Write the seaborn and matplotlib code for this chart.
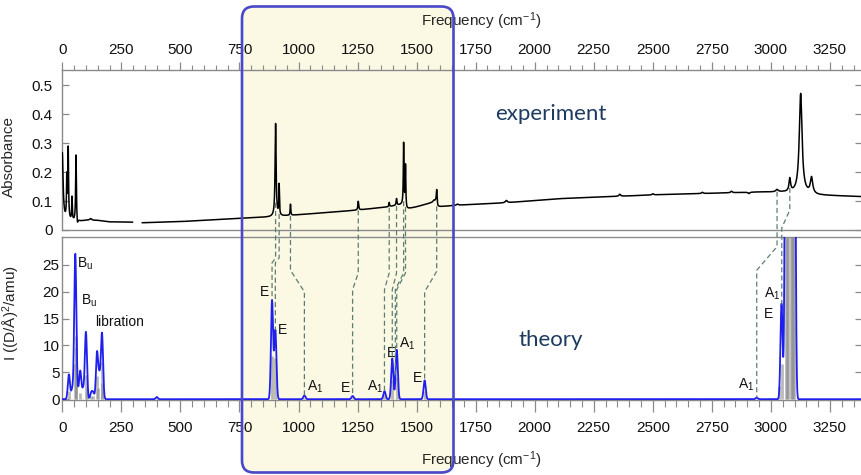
import numpy as np
import pandas as pd
import matplotlib
matplotlib.use("Agg")
import matplotlib.pyplot as plt
import matplotlib.transforms as mtransforms
from matplotlib.patches import FancyBboxPatch
from matplotlib.lines import Line2D
from matplotlib.ticker import MultipleLocator
import seaborn as sns

# ---------------------------------------------------------------- data
# Experimental IR absorbance: smooth baseline knots plus Lorentzian bands
exp_base_freq = [0, 65, 100, 150, 200, 300, 340, 500, 750, 880, 990, 1240, 1370,
                 1440, 1449, 1458, 1500, 1580, 1590, 1680, 1880, 2100, 2530,
                 2950, 3050, 3200, 3390]
exp_base_abs = [0.030, 0.028, 0.033, 0.033, 0.028, 0.027, 0.025, 0.029, 0.040,
                0.045, 0.052, 0.068, 0.079, 0.088, 0.088, 0.072, 0.080, 0.098,
                0.080, 0.086, 0.094, 0.108, 0.122, 0.131, 0.130, 0.120, 0.115]
exp_peak_freq = [0, 19, 25, 41, 58, 64, 120, 903, 918, 966, 1253, 1384, 1415,
                 1445, 1453, 1573, 1585, 1673, 1880, 2360, 2500, 2710, 2833,
                 2907, 3026, 3080, 3126, 3172]
exp_peak_height = [0.235, 0.14, 0.245, 0.08, 0.23, -0.02, 0.006, 0.32, 0.105,
                   0.038, 0.03, 0.014, 0.023, 0.21, 0.14, 0.006, 0.05, 0.004,
                   0.008, 0.007, 0.004, 0.004, 0.005, -0.005, 0.008, 0.045,
                   0.345, 0.055]
exp_peak_hwhm = [4, 1.5, 1.8, 1.5, 1.8, 2, 5, 2.5, 1.5, 1.5, 2, 1.5, 2, 1.5,
                 1.5, 4, 2, 4, 5, 4, 4, 4, 4, 4, 6, 4, 7, 6]
exp_gap = (298, 338)          # no data recorded in this window

# Computed harmonic spectrum: stick intensities and broadened bands
stick_freq = [30, 52, 56, 60, 76, 100, 104, 121, 131, 146, 150, 166, 170, 400,
              888, 901, 1025, 1229, 1364, 1397, 1416, 1534, 2940, 3036, 3045,
              3064, 3068, 3073, 3083, 3088, 3092, 3099]
stick_int = [1.6, 6.5, 11.7, 9.6, 1.2, 4.5, 2.0, 0.6, 0.6, 4.3, 2.0, 7.0, 3.0,
             0.2, 8.0, 7.6, 0.3, 0.3, 0.7, 3.6, 4.2, 1.6, 0.15, 2.5, 6.5, 60,
             40, 60, 80, 50, 70, 60]
band_freq = [28, 42, 55, 66, 76, 88, 100, 123, 131, 147, 157, 168, 400, 888,
             902, 1025, 1229, 1364, 1397, 1416, 1534, 2940, 3045, 3064, 3073,
             3083, 3092, 3099]
band_peak = [4.6, 1.8, 27.0, 1.0, 5.2, 1.8, 12.5, 1.2, 1.1, 8.6, 4.0, 12.2, 0.4,
             18.4, 12.8, 0.7, 0.6, 1.5, 7.6, 9.2, 3.5, 0.3, 17.8, 90, 80, 100,
             85, 90]
band_sigma = 4.5

# Mode symmetry labels in the theory panel
mode_text = ["B$_\\mathrm{u}$", "B$_\\mathrm{u}$", "libration", "E", "E",
             "A$_1$", "E", "A$_1$", "E", "A$_1$", "E", "A$_1$", "A$_1$", "E"]
mode_x = [64, 79, 139, 874, 914, 1037, 1178, 1291, 1373, 1424, 1483, 2860,
          2970, 2970]
mode_y = [25.3, 18.3, 14.3, 20.0, 12.8, 2.3, 2.0, 2.3, 8.6, 10.3, 4.0, 2.6,
          19.7, 15.8]
mode_ha = ["left", "left", "left", "right", "left", "left", "left", "left",
           "left", "left", "left", "left", "left", "left"]

# Assignment links: experimental band -> computed band
link_exp = [903, 918, 966, 1253, 1384, 1415, 1445, 1453, 1585, 3026, 3080]
link_theo = [888, 902, 1025, 1229, 1364, 1397, 1410, 1416, 1534, 2940, 3046]
link_knee_hi = [26.3, 26.3, 24.0, 23.5, 23.5, 23.5, 23.5, 23.5, 23.8, 28.4, 35.2]
link_knee_lo = [25.4, 25.4, 20.0, 20.4, 20.4, 20.4, 20.4, 20.4, 20.0, 24.0, 31.9]

freq_ticks = list(range(0, 3251, 250))
abs_ticks = [0, 0.1, 0.2, 0.3, 0.4, 0.5]
abs_tick_labels = ["0", "0.1", "0.2", "0.3", "0.4", "0.5"]
int_ticks = [0, 5, 10, 15, 20, 25]

# ---------------------------------------------------------------- style
sns.set_style("white")
plt.rcParams["font.family"] = ["Liberation Sans", "DejaVu Sans"]
plt.rcParams["mathtext.fontset"] = "custom"
plt.rcParams["mathtext.rm"] = "Liberation Sans"
plt.rcParams["mathtext.it"] = "Liberation Sans:italic"
plt.rcParams["mathtext.bf"] = "Liberation Sans:bold"

SPINE = "#8a8a8a"
LINK = "#5d7d73"
BLUE = "#2020ee"
NAVY = "#1d3b61"

W, H = 862, 475
fig = plt.figure(figsize=(W / 100, H / 100), dpi=100)
fig.patch.set_facecolor("white")

x0, x1 = 62.3, 861.5
ax_exp = fig.add_axes([x0 / W, (H - 230) / H, (x1 - x0) / W, 160 / H])
ax_th = fig.add_axes([x0 / W, (H - 400) / H, (x1 - x0) / W, 163 / H])
xmax = (x1 - x0) / 0.2362

# ---------------------------------------------------------------- experiment
f = np.arange(0, 3390.01, 0.25)
absorb = np.interp(f, exp_base_freq, exp_base_abs)
for c, h, w in zip(exp_peak_freq, exp_peak_height, exp_peak_hwhm):
    absorb = absorb + h * w ** 2 / ((f - c) ** 2 + w ** 2)
segment = np.where(f <= exp_gap[0], 0, np.where(f >= exp_gap[1], 1, -1))
df_exp = pd.DataFrame({"freq": f, "absorbance": absorb, "segment": segment})
df_exp = df_exp[df_exp["segment"] >= 0]
sns.lineplot(data=df_exp, x="freq", y="absorbance", units="segment",
             estimator=None, sort=False, color="black", lw=1.1, ax=ax_exp,
             zorder=3)

# ---------------------------------------------------------------- theory
ft = np.arange(0, 3390.01, 0.5)
inten = np.zeros_like(ft)
for c, h in zip(band_freq, band_peak):
    inten = inten + h * np.exp(-0.5 * ((ft - c) / band_sigma) ** 2)
ax_th.vlines(stick_freq, 0, stick_int, color="#8c8c8c", alpha=0.6, lw=2.0,
             zorder=2)
df_th = pd.DataFrame({"freq": ft, "intensity": inten})
sns.lineplot(data=df_th, x="freq", y="intensity", estimator=None, sort=False,
             color=BLUE, lw=1.3, ax=ax_th, zorder=3)

for t, x, y, ha in zip(mode_text, mode_x, mode_y, mode_ha):
    ax_th.text(x, y, t, ha=ha, va="center", fontsize=10, color="#111111",
               zorder=4)

# ---------------------------------------------------------------- axes
for ax in (ax_exp, ax_th):
    ax.set_xlim(0, xmax)
    ax.patch.set_visible(False)
    for s in ax.spines.values():
        s.set_color(SPINE)
        s.set_linewidth(1.0)
        s.set_visible(True)
    ax.set_xticks(freq_ticks)
    ax.set_xticklabels([str(v) for v in freq_ticks])
    ax.xaxis.set_minor_locator(MultipleLocator(50))
    ax.tick_params(colors=SPINE, labelcolor="#111111", labelsize=11, width=0.9)
    ax.tick_params(axis="x", which="minor", colors=SPINE, width=0.8)

ax_exp.set_ylim(0, 0.552)
ax_exp.set_yticks(abs_ticks)
ax_exp.set_yticklabels(abs_tick_labels)
ax_exp.xaxis.tick_top()
ax_exp.tick_params(axis="x", which="major", direction="out", length=5.8,
                   pad=3.2, top=True, bottom=False)
ax_exp.tick_params(axis="x", which="minor", direction="out", length=3.5,
                   top=True, bottom=False)
ax_exp.tick_params(axis="y", which="major", direction="in", length=5, pad=7,
                   left=True, right=True)
ax_exp.set_xlabel("Frequency (cm$^{-1}$)", fontsize=11)
ax_exp.xaxis.set_label_position("top")
ax_exp.xaxis.set_label_coords(0.524, 1.272)
ax_exp.set_ylabel("Absorbance", fontsize=11)
ax_exp.yaxis.set_label_coords(-0.058, 0.46)

ax_th.set_ylim(-0.15, 30.2)
ax_th.set_yticks(int_ticks)
ax_th.set_yticklabels([str(v) for v in int_ticks])
ax_th.tick_params(axis="x", which="major", direction="out", length=8.5,
                  pad=6.5, bottom=True, top=False)
ax_th.tick_params(axis="x", which="minor", direction="out", length=4.8,
                  bottom=True, top=False)
ax_th.tick_params(axis="y", which="major", direction="in", length=5, pad=2,
                  left=True, right=True)
ax_th.set_xlabel("Frequency (cm$^{-1}$)", fontsize=11)
ax_th.xaxis.set_label_coords(0.524, -0.305)
ax_th.set_ylabel("I ((D/Å)$^2$/amu)", fontsize=11)
ax_th.yaxis.set_label_coords(-0.051, 0.534)

ax_exp.text(2068, 0.40, "experiment", ha="center", va="center", fontsize=16,
            family=["Lato", "DejaVu Sans"], color=NAVY)
ax_th.text(2068, 11.1, "theory", ha="center", va="center", fontsize=16,
           family=["Lato", "DejaVu Sans"], color=NAVY)

# ---------------------------------------------------------------- links
to_fig = fig.transFigure.inverted()
for fe, fth, khi, klo in zip(link_exp, link_theo, link_knee_hi, link_knee_lo):
    window = (f > fe - 6) & (f < fe + 6)
    y_start = absorb[window].min() - 0.004
    y_end = np.interp(fth, ft, inten)
    pts = [ax_exp.transData.transform((fe, y_start)),
           ax_th.transData.transform((fe, khi)),
           ax_th.transData.transform((fth, klo)),
           ax_th.transData.transform((fth, y_end))]
    pts = to_fig.transform(np.array(pts))
    fig.add_artist(Line2D(pts[:, 0], pts[:, 1], transform=fig.transFigure,
                          color=LINK, lw=0.9, dashes=(4, 2.5), zorder=0.5))

# ---------------------------------------------------------------- highlight
box_kw = dict(boxstyle="round,pad=0,rounding_size=12",
              transform=mtransforms.IdentityTransform())
fig.add_artist(FancyBboxPatch((242, H - 472.5), 211.5, 466, facecolor="#fbf8e4",
                              edgecolor="none", zorder=-5, **box_kw))
fig.add_artist(FancyBboxPatch((242, H - 472.5), 211.5, 466, facecolor="none",
                              edgecolor="#4848c8", lw=1.9, zorder=5, **box_kw))

fig.savefig("out.png", dpi=100)
